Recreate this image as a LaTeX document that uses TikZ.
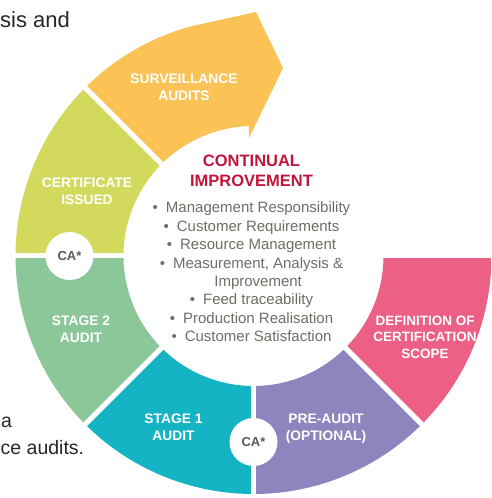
\documentclass[tikz,border=0pt]{standalone}
\usepackage{fontspec}
\setmainfont{Liberation Sans}
\usetikzlibrary{calc}
\definecolor{cOrange}{HTML}{FBC355}
\definecolor{cLime}{HTML}{D3D95D}
\definecolor{cGreen}{HTML}{8CC79A}
\definecolor{cTeal}{HTML}{15B4C5}
\definecolor{cPurple}{HTML}{8C85BE}
\definecolor{cPink}{HTML}{EC6085}
\definecolor{cRed}{HTML}{C0143C}
\definecolor{cGray}{HTML}{6E6E64}
\definecolor{cCA}{HTML}{595959}
\definecolor{cDark}{HTML}{262626}
\tikzset{
  seglabel/.style={text=white, font=\bfseries\fontsize{13.8}{17}\selectfont, align=center, inner sep=0pt},
  cacircle/.style={circle, fill=white, minimum size=48pt, inner sep=0pt, text=cCA, font=\bfseries\fontsize{13}{15}\selectfont},
  gapline/.style={white, line width=5pt},
  bgtext/.style={text=cDark, font=\fontsize{22}{26}\selectfont, inner sep=0pt},
  bgtextsmall/.style={text=cDark, font=\fontsize{19.5}{24}\selectfont, inner sep=0pt},
}
\newcommand{\annseg}[3]{% color, start angle, end angle
  \fill[#1] ($(C)+(#2:238pt)$) arc[start angle=#2, end angle=#3, radius=238pt]
    -- ($(C)+(#3:130pt)$) arc[start angle=#3, end angle=#2, radius=130pt] -- cycle;}
\begin{document}
\begin{tikzpicture}[x=1pt,y=1pt]
\useasboundingbox (0,0) rectangle (491,498);
\clip (0,0) rectangle (491,498);
\coordinate (C) at (253.5,242);
% background text fragments
\node[bgtext, anchor=base west] (t1) at (0,470) {sis and};
\node[bgtextsmall, anchor=base west] (t2) at (1,70) {a};
\node[bgtextsmall, anchor=base west] (t3) at (0.5,43) {ce audits.};
% segments
\annseg{cPink}{0}{-45}
\annseg{cPurple}{-45}{-90}
\annseg{cTeal}{-90}{-135}
\annseg{cGreen}{-135}{-180}
\annseg{cLime}{180}{135}
\fill[cOrange] ($(C)+(135:238pt)$) arc[start angle=135, end angle=105, radius=238pt]
  -- (256,486) -- (283,430) -- (249,360) -- ($(C)+(92:130pt)$)
  arc[start angle=92, end angle=135, radius=130pt] -- cycle;
% gaps
\foreach \a in {0,-45,-90,-135,180,135}
  \draw[gapline] (C) -- ++(\a:250pt);
% CA circles
\node[cacircle] (ca1) at ($(C)+(180:184pt)$) {CA*};
\node[cacircle] (ca2) at ($(C)+(270:186pt)$) {CA*};
% labels
\node[seglabel] (surv) at (184,410.5) {SURVEILLANCE\\AUDITS};
\node[seglabel] (cert) at (87,306.5) {CERTIFICATE\\ISSUED};
\node[seglabel] (st2) at (81,168.5) {STAGE 2\\AUDIT};
\node[seglabel] (st1) at (173.5,71) {STAGE 1\\AUDIT};
\node[seglabel] (pre) at (326,69.5) {PRE-AUDIT\\(OPTIONAL)};
\node[seglabel, font=\bfseries\fontsize{13.5}{16.5}\selectfont] (def) at (425,161) {DEFINITION OF\\CERTIFICATION\\SCOPE};
% centre
\node[text=cRed, font=\bfseries\fontsize{16.5}{20}\selectfont, align=center, inner sep=0pt] (title) at (251.5,327) {CONTINUAL\\IMPROVEMENT};
\node[text=cGray, font=\fontsize{15}{18.4}\selectfont, align=center, inner sep=0pt] (list) at (251.5,226) {%
\textbullet\hspace{8pt}Management Responsibility\\
\textbullet\hspace{8pt}Customer Requirements\\
\textbullet\hspace{8pt}Resource Management\\
\textbullet\hspace{8pt}Measurement, Analysis \&\\
\phantom{\textbullet\hspace{8pt}}Improvement\\
\textbullet\hspace{8pt}Feed traceability\\
\textbullet\hspace{8pt}Production Realisation\\
\textbullet\hspace{8pt}Customer Satisfaction};
\end{tikzpicture}
\end{document}
